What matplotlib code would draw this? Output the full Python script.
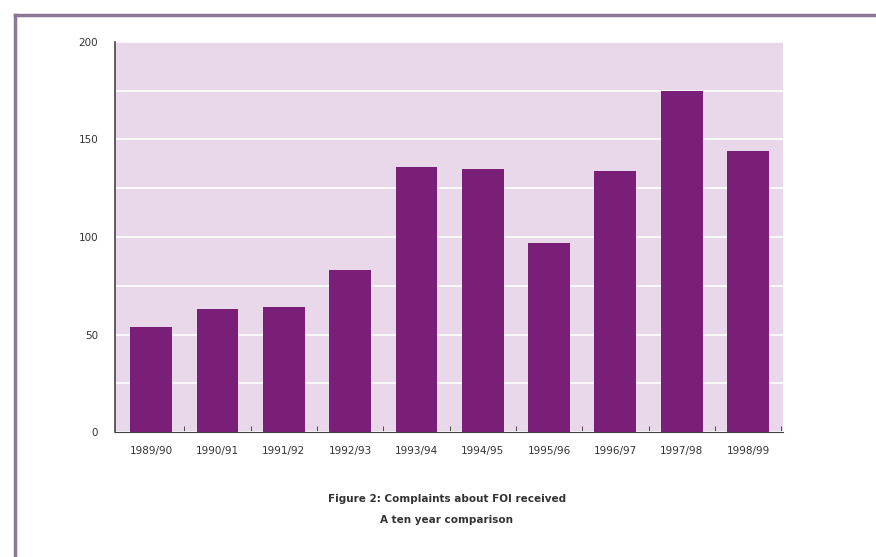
import matplotlib.pyplot as plt
from matplotlib.lines import Line2D
import numpy as np

years = ['1989/90', '1990/91', '1991/92', '1992/93', '1993/94',
         '1994/95', '1995/96', '1996/97', '1997/98', '1998/99']
complaints = [54, 63, 64, 83, 136, 135, 97, 134, 175, 144]

bar_col = '#7a1f78'
bg_col = '#e9d7ea'

fig = plt.figure(figsize=(8.76, 5.57), dpi=100)
ax = fig.add_axes([0.131, 0.224, 0.763, 0.701])

x = np.arange(len(years))
ax.bar(x, complaints, width=0.63, color=bar_col, zorder=3)

ax.set_facecolor(bg_col)
ax.set_xlim(-0.55, len(years) - 0.47)
ax.set_ylim(0, 200)
ax.set_yticks([0, 50, 100, 150, 200])
ax.set_yticks(np.arange(0, 201, 25), minor=True)
ax.yaxis.grid(True, which='both', color='white', linewidth=1.2, zorder=1)
ax.tick_params(axis='y', which='both', length=0, labelsize=7.5,
               labelcolor='#333333', pad=12)

ax.set_xticks(x)
ax.set_xticklabels(years)
ax.set_xticks(np.arange(0.5, len(years), 1), minor=True)
ax.tick_params(axis='x', which='major', length=0, labelsize=7.5,
               labelcolor='#333333', pad=10)
ax.tick_params(axis='x', which='minor', direction='in', length=4,
               color='#333333')

for s in ['top', 'right']:
    ax.spines[s].set_visible(False)
ax.spines['left'].set_color('#444444')
ax.spines['bottom'].set_color('#444444')
ax.spines['left'].set_linewidth(1.2)

# page border
fig.add_artist(Line2D([0.017, 1.0], [0.973, 0.973], color='#8f7597', lw=2.5))
fig.add_artist(Line2D([0.017, 0.017], [0.0, 0.973], color='#8f7597', lw=2.5))

fig.text(0.51, 0.104, 'Figure 2: Complaints about FOI received',
         ha='center', va='center', fontsize=7.5, fontweight='bold', color='#333333')
fig.text(0.51, 0.066, 'A ten year comparison',
         ha='center', va='center', fontsize=7.5, fontweight='bold', color='#333333')

fig.savefig('out.png', dpi=100)
